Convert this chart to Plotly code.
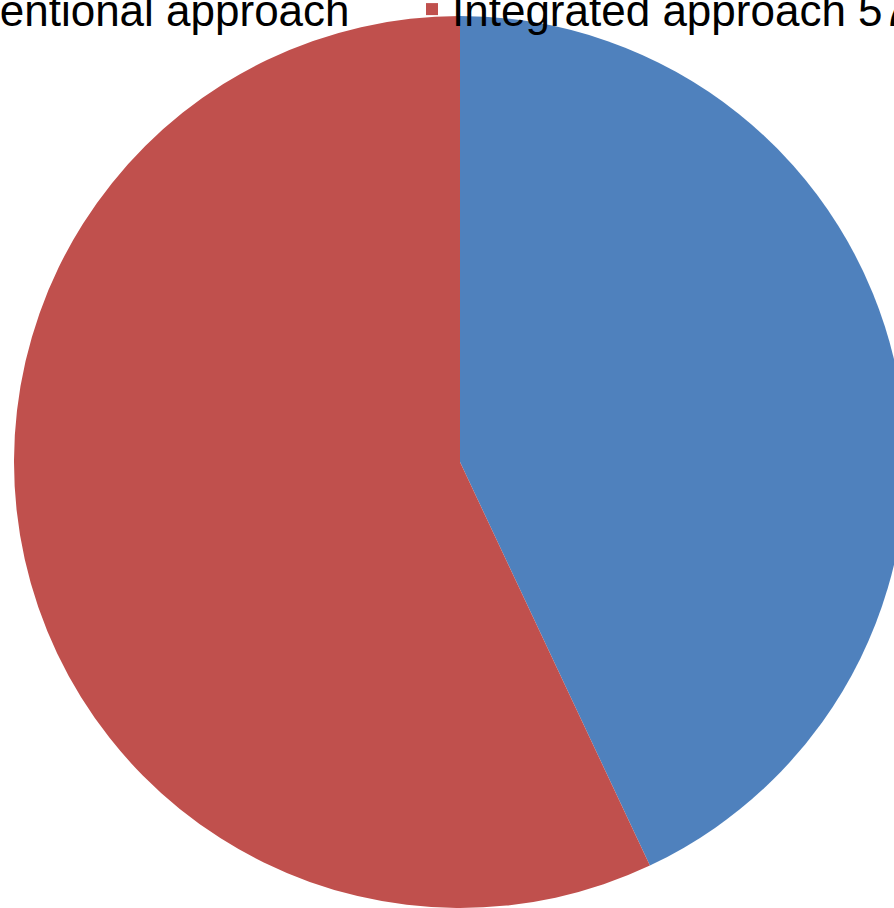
import plotly.graph_objects as go

labels = ["Conventional approach", "Integrated approach 57%"]
values = [43, 57]
colors = ["#4F81BD", "#C0504D"]

W, H = 1300, 908
cx, cy, r = 460, 462, 446

fig = go.Figure(go.Pie(
    labels=labels,
    values=values,
    sort=False,
    direction="clockwise",
    rotation=0,
    textinfo="none",
    hoverinfo="label+percent",
    marker=dict(colors=colors, line=dict(width=0)),
    domain=dict(x=[(cx - r) / W, (cx + r) / W],
                y=[(H - cy - r) / H, (H - cy + r) / H]),
))

fig.update_layout(
    width=W, height=H,
    margin=dict(l=0, r=0, t=0, b=0, pad=0, autoexpand=False),
    paper_bgcolor="white",
    plot_bgcolor="white",
    font=dict(family="Liberation Sans, Arial, sans-serif", color="black", size=44),
    showlegend=True,
    legend=dict(orientation="h", x=-143 / W, xanchor="left", y=1 + 26 / H, yanchor="top",
                entrywidth=510, entrywidthmode="pixels",
                bgcolor="rgba(0,0,0,0)", font=dict(size=44), itemclick=False),
)

fig.write_html("out.html", config={"displayModeBar": False},
               post_script="document.body.style.margin='0';document.body.style.overflow='hidden';document.documentElement.style.overflow='hidden';")
